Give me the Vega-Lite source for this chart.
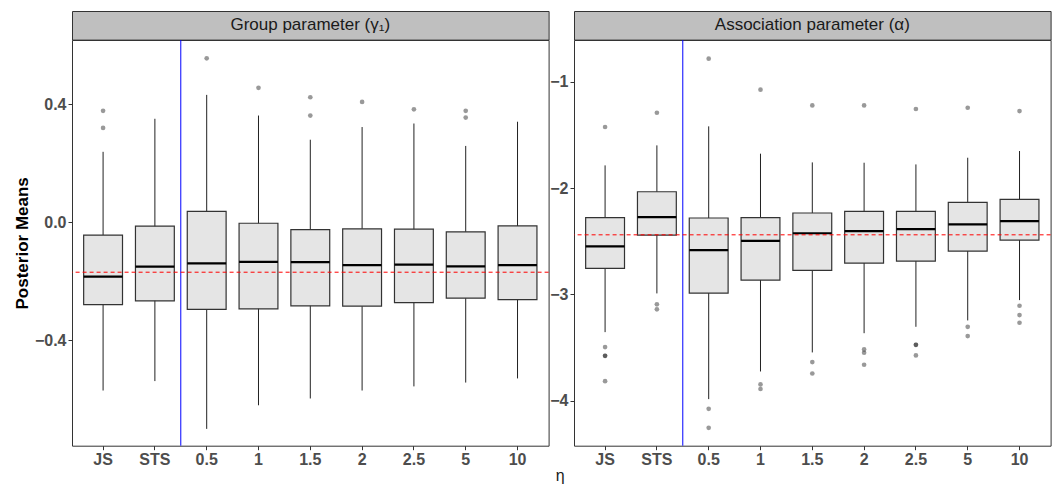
{
  "$schema": "https://vega.github.io/schema/vega-lite/v6.json",
  "background": "white",
  "padding": {"left": 12, "top": 10, "right": 5, "bottom": 5},
  "config": {
    "font": "Liberation Sans",
    "view": {"stroke": "#333333", "strokeWidth": 1},
    "axis": {
      "grid": false,
      "domain": false,
      "tickColor": "#333333",
      "tickSize": 4,
      "labelFont": "Liberation Sans",
      "labelFontWeight": "bold",
      "labelFontSize": 16,
      "labelColor": "#4d4d4d",
      "titleFont": "Liberation Sans",
      "titleFontWeight": "bold",
      "titleFontSize": 17,
      "titleColor": "#000000"
    }
  },
  "title": {
    "text": "η",
    "orient": "bottom",
    "anchor": "middle",
    "font": "Liberation Sans",
    "fontSize": 16,
    "fontWeight": "normal",
    "color": "#1a1a1a",
    "offset": 0,
    "dx": 28
  },
  "datasets": {
    "gamma": [
      {"eta": "JS", "lo": -0.571, "q1": -0.280, "med": -0.185, "q3": -0.044, "hi": 0.238},
      {"eta": "STS", "lo": -0.539, "q1": -0.267, "med": -0.151, "q3": -0.014, "hi": 0.350},
      {"eta": "0.5", "lo": -0.701, "q1": -0.296, "med": -0.140, "q3": 0.036, "hi": 0.431},
      {"eta": "1", "lo": -0.621, "q1": -0.294, "med": -0.135, "q3": -0.004, "hi": 0.361},
      {"eta": "1.5", "lo": -0.598, "q1": -0.284, "med": -0.136, "q3": -0.026, "hi": 0.279},
      {"eta": "2", "lo": -0.571, "q1": -0.285, "med": -0.146, "q3": -0.023, "hi": 0.322},
      {"eta": "2.5", "lo": -0.557, "q1": -0.273, "med": -0.144, "q3": -0.024, "hi": 0.334},
      {"eta": "5", "lo": -0.544, "q1": -0.258, "med": -0.150, "q3": -0.033, "hi": 0.258},
      {"eta": "10", "lo": -0.530, "q1": -0.263, "med": -0.146, "q3": -0.013, "hi": 0.340}
    ],
    "gammaOut": [
      {"eta": "JS", "v": 0.377}, {"eta": "JS", "v": 0.319},
      {"eta": "0.5", "v": 0.555},
      {"eta": "1", "v": 0.455},
      {"eta": "1.5", "v": 0.423}, {"eta": "1.5", "v": 0.361},
      {"eta": "2", "v": 0.407},
      {"eta": "2.5", "v": 0.382},
      {"eta": "5", "v": 0.377}, {"eta": "5", "v": 0.354}
    ],
    "alpha": [
      {"eta": "JS", "lo": -3.355, "q1": -2.756, "med": -2.549, "q3": -2.279, "hi": -1.787},
      {"eta": "STS", "lo": -2.991, "q1": -2.442, "med": -2.273, "q3": -2.035, "hi": -1.599},
      {"eta": "0.5", "lo": -3.985, "q1": -2.988, "med": -2.583, "q3": -2.282, "hi": -1.420},
      {"eta": "1", "lo": -3.725, "q1": -2.866, "med": -2.496, "q3": -2.279, "hi": -1.677},
      {"eta": "1.5", "lo": -3.546, "q1": -2.775, "med": -2.425, "q3": -2.235, "hi": -1.759},
      {"eta": "2", "lo": -3.365, "q1": -2.706, "med": -2.405, "q3": -2.220, "hi": -1.762},
      {"eta": "2.5", "lo": -3.305, "q1": -2.687, "med": -2.386, "q3": -2.220, "hi": -1.778},
      {"eta": "5", "lo": -3.245, "q1": -2.593, "med": -2.342, "q3": -2.135, "hi": -1.715},
      {"eta": "10", "lo": -3.054, "q1": -2.489, "med": -2.311, "q3": -2.107, "hi": -1.652}
    ],
    "alphaOut": [
      {"eta": "JS", "v": -1.426}, {"eta": "JS", "v": -3.496}, {"eta": "JS", "v": -3.578}, {"eta": "JS", "v": -3.578}, {"eta": "JS", "v": -3.816},
      {"eta": "STS", "v": -1.292}, {"eta": "STS", "v": -3.094}, {"eta": "STS", "v": -3.141},
      {"eta": "0.5", "v": -0.784}, {"eta": "0.5", "v": -4.076}, {"eta": "0.5", "v": -4.255},
      {"eta": "1", "v": -1.075}, {"eta": "1", "v": -3.847}, {"eta": "1", "v": -3.890},
      {"eta": "1.5", "v": -1.223}, {"eta": "1.5", "v": -3.637}, {"eta": "1.5", "v": -3.744},
      {"eta": "2", "v": -1.223}, {"eta": "2", "v": -3.518}, {"eta": "2", "v": -3.549}, {"eta": "2", "v": -3.662},
      {"eta": "2.5", "v": -1.257}, {"eta": "2.5", "v": -3.474}, {"eta": "2.5", "v": -3.474}, {"eta": "2.5", "v": -3.574},
      {"eta": "5", "v": -1.245}, {"eta": "5", "v": -3.305}, {"eta": "5", "v": -3.392},
      {"eta": "10", "v": -1.276}, {"eta": "10", "v": -3.107}, {"eta": "10", "v": -3.195}, {"eta": "10", "v": -3.267}
    ]
  },
  "bounds": "flush",
  "columns": 2,
  "spacing": {"row": 0, "column": 25},
  "concat": [
    {
      "width": 476.6,
      "height": 28.6,
      "view": {"fill": "#bfbfbf", "stroke": "#333333"},
      "data": {"values": [{"label": "Group parameter (γ₁)"}]},
      "mark": {"type": "text", "font": "Liberation Sans", "fontSize": 17, "color": "#1a1a1a"},
      "encoding": {"text": {"field": "label", "type": "nominal"}}
    },
    {
      "width": 476.6,
      "height": 28.6,
      "view": {"fill": "#bfbfbf", "stroke": "#333333"},
      "data": {"values": [{"label": "Association parameter (α)"}]},
      "mark": {"type": "text", "font": "Liberation Sans", "fontSize": 17, "color": "#1a1a1a"},
      "encoding": {"text": {"field": "label", "type": "nominal"}}
    },
    {
      "width": 476.6,
      "height": 405.7,
      "layer": [
        {
          "data": {"name": "gamma"},
          "mark": {"type": "rule", "color": "#222222", "strokeWidth": 1},
          "encoding": {
            "x": {"field": "eta", "type": "nominal", "sort": ["JS", "STS", "0.5", "1", "1.5", "2", "2.5", "5", "10"], "scale": {"type": "band", "paddingInner": 0.25, "paddingOuter": 0.225}, "axis": {"title": null, "labelAngle": 0, "labelPadding": 2}},
            "y": {"field": "lo", "type": "quantitative", "title": "Posterior Means", "scale": {"domain": [-0.758, 0.617], "nice": false, "zero": false}, "axis": {"values": [-0.4, 0, 0.4], "format": ".1f", "labelPadding": 2, "titlePadding": 3}},
            "y2": {"field": "hi"}
          }
        },
        {
          "data": {"name": "gamma"},
          "mark": {"type": "bar", "fill": "#e5e5e5", "stroke": "#333333", "strokeWidth": 1.2},
          "encoding": {
            "x": {"field": "eta", "type": "nominal", "sort": ["JS", "STS", "0.5", "1", "1.5", "2", "2.5", "5", "10"]},
            "y": {"field": "q1", "type": "quantitative", "title": "Posterior Means"},
            "y2": {"field": "q3"}
          }
        },
        {
          "data": {"name": "gamma"},
          "mark": {"type": "bar", "fill": "#000000", "stroke": "#000000", "strokeWidth": 2.2},
          "encoding": {
            "x": {"field": "eta", "type": "nominal", "sort": ["JS", "STS", "0.5", "1", "1.5", "2", "2.5", "5", "10"]},
            "y": {"field": "med", "type": "quantitative", "title": "Posterior Means"},
            "y2": {"field": "med"}
          }
        },
        {
          "data": {"name": "gammaOut"},
          "mark": {"type": "point", "filled": true, "color": "#000000", "opacity": 0.4, "size": 22, "strokeWidth": 0},
          "encoding": {
            "x": {"field": "eta", "type": "nominal", "sort": ["JS", "STS", "0.5", "1", "1.5", "2", "2.5", "5", "10"]},
            "y": {"field": "v", "type": "quantitative", "title": "Posterior Means"}
          }
        },
        {
          "data": {"values": [{"eta": "STS"}]},
          "mark": {"type": "rule", "color": "#0000ff", "strokeWidth": 1},
          "encoding": {
            "x": {"field": "eta", "type": "nominal", "sort": ["JS", "STS", "0.5", "1", "1.5", "2", "2.5", "5", "10"], "bandPosition": 1.1667}
          }
        },
        {
          "data": {"values": [{"ref": -0.17}]},
          "mark": {"type": "rule", "color": "#ff0000", "strokeWidth": 1, "strokeDash": [4, 3]},
          "encoding": {
            "y": {"field": "ref", "type": "quantitative", "title": "Posterior Means"}
          }
        }
      ]
    },
    {
      "width": 476.6,
      "height": 405.7,
      "layer": [
        {
          "data": {"name": "alpha"},
          "mark": {"type": "rule", "color": "#222222", "strokeWidth": 1},
          "encoding": {
            "x": {"field": "eta", "type": "nominal", "sort": ["JS", "STS", "0.5", "1", "1.5", "2", "2.5", "5", "10"], "scale": {"type": "band", "paddingInner": 0.25, "paddingOuter": 0.225}, "axis": {"title": null, "labelAngle": 0, "labelPadding": 2}},
            "y": {"field": "lo", "type": "quantitative", "title": null, "scale": {"domain": [-4.423, -0.608], "nice": false, "zero": false}, "axis": {"values": [-4, -3, -2, -1], "format": "d", "labelPadding": 2}},
            "y2": {"field": "hi"}
          }
        },
        {
          "data": {"name": "alpha"},
          "mark": {"type": "bar", "fill": "#e5e5e5", "stroke": "#333333", "strokeWidth": 1.2},
          "encoding": {
            "x": {"field": "eta", "type": "nominal", "sort": ["JS", "STS", "0.5", "1", "1.5", "2", "2.5", "5", "10"]},
            "y": {"field": "q1", "type": "quantitative", "title": null},
            "y2": {"field": "q3"}
          }
        },
        {
          "data": {"name": "alpha"},
          "mark": {"type": "bar", "fill": "#000000", "stroke": "#000000", "strokeWidth": 2.2},
          "encoding": {
            "x": {"field": "eta", "type": "nominal", "sort": ["JS", "STS", "0.5", "1", "1.5", "2", "2.5", "5", "10"]},
            "y": {"field": "med", "type": "quantitative", "title": null},
            "y2": {"field": "med"}
          }
        },
        {
          "data": {"name": "alphaOut"},
          "mark": {"type": "point", "filled": true, "color": "#000000", "opacity": 0.4, "size": 22, "strokeWidth": 0},
          "encoding": {
            "x": {"field": "eta", "type": "nominal", "sort": ["JS", "STS", "0.5", "1", "1.5", "2", "2.5", "5", "10"]},
            "y": {"field": "v", "type": "quantitative", "title": null}
          }
        },
        {
          "data": {"values": [{"eta": "STS"}]},
          "mark": {"type": "rule", "color": "#0000ff", "strokeWidth": 1},
          "encoding": {
            "x": {"field": "eta", "type": "nominal", "sort": ["JS", "STS", "0.5", "1", "1.5", "2", "2.5", "5", "10"], "bandPosition": 1.1667}
          }
        },
        {
          "data": {"values": [{"ref": -2.44}]},
          "mark": {"type": "rule", "color": "#ff0000", "strokeWidth": 1, "strokeDash": [4, 3]},
          "encoding": {
            "y": {"field": "ref", "type": "quantitative", "title": null}
          }
        }
      ]
    }
  ]
}
